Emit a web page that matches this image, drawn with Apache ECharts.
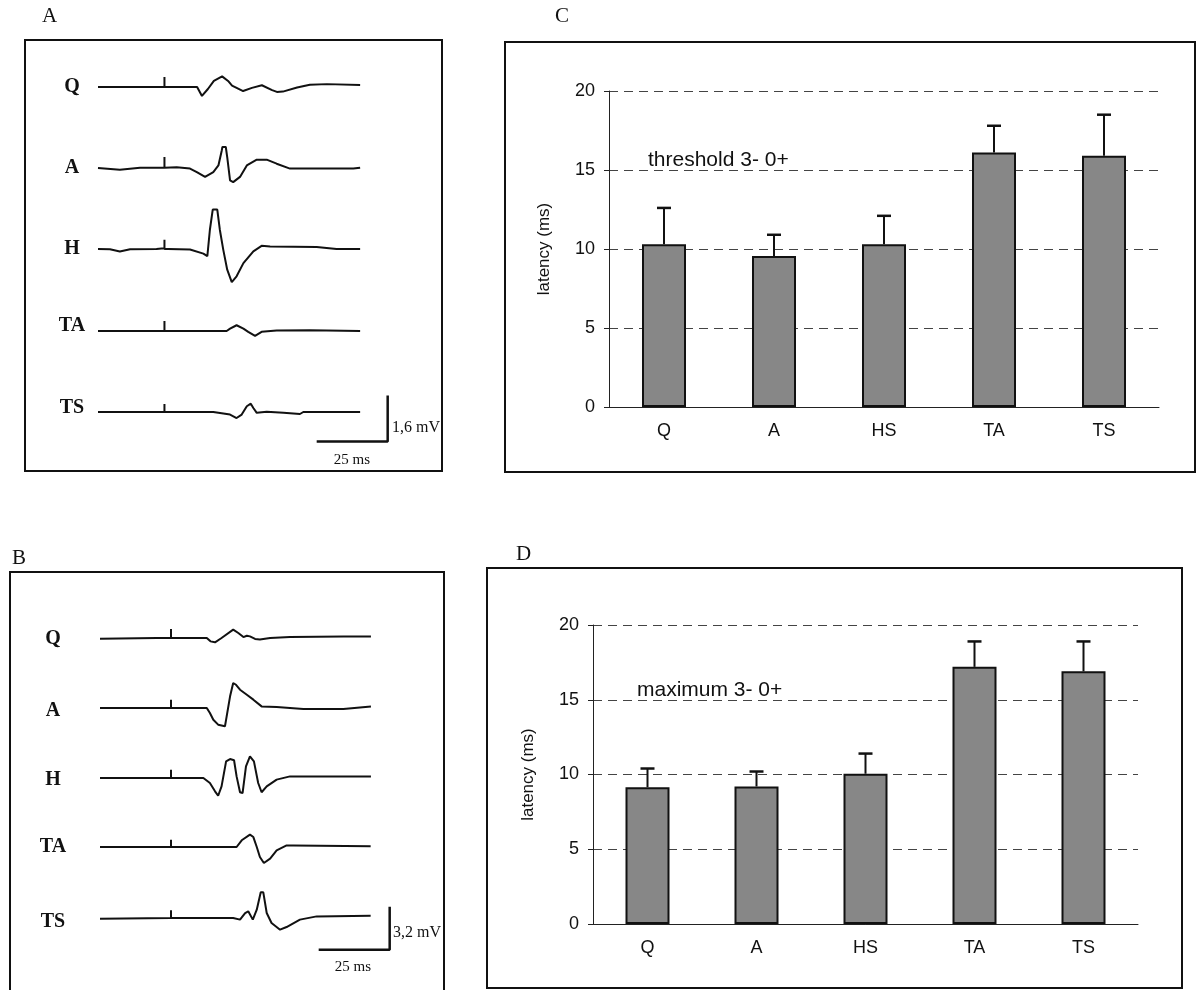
<!DOCTYPE html>
<html>
<head>
<meta charset="utf-8">
<script src="https://cdn.jsdelivr.net/npm/echarts@6/dist/echarts.min.js"></script>
<style>
html, body { margin: 0; padding: 0; background: #fff; }
#chart { width: 1197px; height: 990px; }
</style>
</head>
<body>
<div id="chart"></div>
<script>
// bar charts C and D
var muscles = ['Q', 'A', 'HS', 'TA', 'TS'];
var thresholdMean = [10.3, 9.55, 10.3, 16.1, 15.9];
var thresholdSd = [2.3, 1.35, 1.8, 1.7, 2.6];
var maximumMean = [9.15, 9.2, 10.05, 17.2, 16.9];
var maximumSd = [1.25, 1.0, 1.35, 1.7, 2.0];
var yTicks = [0, 5, 10, 15, 20];

// EMG traces, [ms, mV]
var traceNames = ['Q', 'A', 'H', 'TA', 'TS'];
var aQ = [[0,0],[23.4,0],[23.4,0.35],[23.4,0],[34.9,0],[36.6,-0.31],[38.7,-0.07],[40.8,0.21],[43.7,0.37],[45.8,0.21],[47.2,0.05],[51.1,-0.14],[54.2,-0.03],[57.7,0.06],[61.3,-0.11],[63.0,-0.17],[65.1,-0.16],[70.1,-0.02],[74.6,0.08],[80.6,0.10],[81.0,0.07],[92.3,0.07]];
var aA = [[0,0],[7.7,-0.06],[14.8,0.01],[23.4,0.01],[23.4,0.38],[23.4,0.01],[27.7,0.03],[32.4,-0.02],[34.8,-0.14],[37.7,-0.31],[40.6,-0.14],[42.4,0.09],[43.6,0.62],[43.8,0.73],[45.0,0.73],[45.5,0.38],[46.5,-0.43],[47.6,-0.49],[50.0,-0.31],[52.4,0.09],[55.9,0.29],[59.4,0.29],[62.9,0.15],[67.6,-0.02],[89.9,-0.02],[92.3,0.01]];
var aH = [[0,0],[4.2,-0.01],[7.7,-0.09],[11.3,-0.01],[20.6,0],[22.4,0.02],[23.4,0.02],[23.4,0.32],[23.4,0],[24.7,0],[32.4,-0.02],[37.1,-0.16],[38.5,-0.25],[39.4,0.67],[40.4,1.37],[42.0,1.37],[42.9,0.67],[44.1,-0.02],[45.5,-0.72],[47.1,-1.15],[48.8,-0.95],[51.2,-0.49],[54.7,-0.08],[57.6,0.11],[60.6,0.09],[77.0,0.07],[84.0,0],[92.3,0]];
var aTA = [[0,0],[23.4,0],[23.4,0.35],[23.4,0],[45.3,0],[46.5,0.08],[48.8,0.2],[51.2,0.08],[52.9,-0.03],[55.3,-0.17],[57.6,-0.03],[62.9,0.02],[74.6,0.03],[92.3,0]];
var aTS = [[0,0],[23.4,0],[23.4,0.28],[23.4,0],[40.6,0],[46.5,-0.09],[48.8,-0.21],[50.6,-0.09],[52.4,0.2],[53.8,0.29],[54.7,0.14],[55.9,-0.03],[59.4,0.01],[65.3,-0.03],[71.1,-0.07],[72.3,0],[92.3,0]];
var bQ = [[0,-0.05],[20,0],[25,0],[25,0.67],[25,0],[37.6,0],[38.9,-0.25],[40.5,-0.32],[42.8,0],[46.9,0.62],[48.7,0.37],[50.5,0.07],[51.7,0.17],[52.8,0.12],[54.6,-0.07],[56.3,-0.12],[59.9,0],[66.9,0.07],[85.7,0.12],[95.4,0.12]];
var bA = [[0,0],[25,0],[25,0.62],[25,0],[37.6,0],[38.7,-0.37],[39.9,-0.87],[41.6,-1.24],[44.0,-1.36],[44.6,-0.62],[45.8,0.87],[46.9,1.86],[47.9,1.73],[49.3,1.36],[51.7,0.99],[54.0,0.62],[56.9,0.12],[62.2,0.07],[71.6,-0.07],[85.7,-0.07],[95.4,0.12]];
var bH = [[0,0],[25,0],[25,0.62],[25,0],[36.4,0],[38.7,-0.37],[40.5,-0.99],[41.6,-1.32],[42.8,-0.62],[44.4,1.24],[45.8,1.41],[47.2,1.32],[48.1,0.12],[49.3,-1.06],[50.2,-1.12],[51.4,0.87],[52.8,1.61],[54.2,1.24],[55.7,-0.37],[56.9,-1.06],[58.7,-0.62],[62.2,-0.12],[66.9,0.12],[78.6,0.12],[95.4,0.12]];
var bTA = [[0,0],[25,0],[25,0.54],[25,0],[48.1,0],[49.9,0.5],[52.8,0.92],[54.0,0.74],[55.2,0],[56.3,-0.74],[57.7,-1.19],[59.9,-0.87],[62.2,-0.25],[65.7,0.12],[68.1,0.12],[95.3,0.05]];
var bTS = [[0,-0.05],[25,0],[25,0.57],[25,0],[46.9,0],[49.3,-0.12],[51.1,0.37],[52.2,0.5],[53.8,-0.12],[55.2,0.62],[56.6,1.91],[57.5,1.91],[58.7,0.37],[60.4,-0.37],[63.4,-0.87],[65.7,-0.67],[70.4,-0.12],[76.3,0.12],[95.3,0.17]];
// calibration bars: 25 ms / 1.6 mV and 25 ms / 3.2 mV
var scaleA = [[77,-1.03],[102,-1.03],[102,0.57]];
var scaleB = [[77,-2.36],[102,-2.36],[102,0.84]];

var myChart = echarts.init(document.getElementById('chart'));

var pxPerMs = 71 / 25;
var panels = [
    {traces: [aQ, aA, aH, aTA, aTS], base: [87, 168, 249, 331, 412], labelDy: [0, 0, 0, -5, -4], left: 98, labelX: 72,
        pxPerMv: 46 / 1.6, scale: scaleA, mvText: '1,6 mV', mvPos: [392, 428], msPos: [352, 460]},
    {traces: [bQ, bA, bH, bTA, bTS], base: [638, 708, 778, 847, 918], labelDy: [1, 3, 2, 0, 4], left: 100, labelX: 53,
        pxPerMv: 43 / 3.2, scale: scaleB, mvText: '3,2 mV', mvPos: [393, 933], msPos: [353, 967]}
];

var grids = [], xAxes = [], yAxes = [], series = [], graphics = [];
var serif = 'Liberation Serif';
var sans = 'Liberation Sans';

panels.forEach(function(p) {
    p.traces.forEach(function(tr, i) {
        var gi = grids.length;
        var half = 50 / p.pxPerMv;
        grids.push({left: p.left, top: p.base[i] - 50, width: 110 * pxPerMs, height: 100});
        xAxes.push({type: 'value', gridIndex: gi, min: 0, max: 110, show: false});
        yAxes.push({type: 'value', gridIndex: gi, min: -half, max: half, show: false});
        series.push({
            type: 'line', xAxisIndex: gi, yAxisIndex: gi, data: tr, showSymbol: false,
            clip: false, lineStyle: {color: '#111', width: 2}
        });
        if (i == 4) {
            series.push({
                type: 'line', xAxisIndex: gi, yAxisIndex: gi, data: p.scale, showSymbol: false,
                clip: false, lineStyle: {color: '#111', width: 2.5}
            });
        }
        graphics.push({
            type: 'text', x: p.labelX, y: p.base[i] + p.labelDy[i],
            style: {text: traceNames[i], fill: '#111', font: 'bold 20px ' + serif,
                align: 'center', verticalAlign: 'middle'}
        });
    });
    graphics.push({type: 'text', x: p.mvPos[0], y: p.mvPos[1],
        style: {text: p.mvText, fill: '#111', font: '16px ' + serif, verticalAlign: 'middle'}});
    graphics.push({type: 'text', x: p.msPos[0], y: p.msPos[1],
        style: {text: '25 ms', fill: '#111', font: '15px ' + serif, align: 'center', verticalAlign: 'middle'}});
});

// panel frames and letters
[[25, 40, 417, 431], [505, 42, 690, 430], [10, 572, 434, 430], [487, 568, 695, 420]].forEach(function(r) {
    graphics.push({type: 'rect', shape: {x: r[0], y: r[1], width: r[2], height: r[3]},
        style: {fill: null, stroke: '#111', lineWidth: 2}, z: -1});
});
[['A', 42, 6], ['C', 555, 6], ['B', 12, 548], ['D', 516, 544]].forEach(function(l) {
    graphics.push({type: 'text', left: l[1], top: l[2], style: {text: l[0], fill: '#111', font: '21px ' + serif}});
});
graphics.push({type: 'text', left: 648, top: 150, style: {text: 'threshold 3- 0+', fill: '#111', font: '21px ' + sans}});
graphics.push({type: 'text', left: 637, top: 680, style: {text: 'maximum 3- 0+', fill: '#111', font: '21px ' + sans}});

function barPanel(box, means, sds) {
    var gi = grids.length;
    grids.push(box);
    xAxes.push({
        type: 'category', gridIndex: gi, data: muscles,
        axisLine: {lineStyle: {color: '#222', width: 1}},
        axisTick: {length: 6, lineStyle: {color: '#222'}},
        axisLabel: {color: '#111', fontSize: 18, fontFamily: sans, margin: 15}
    });
    yAxes.push({
        type: 'value', gridIndex: gi, min: yTicks[0], max: yTicks[yTicks.length - 1], interval: 5,
        name: 'latency (ms)', nameLocation: 'middle', nameGap: 56,
        nameTextStyle: {color: '#111', fontSize: 17, fontFamily: sans},
        axisLine: {show: true, lineStyle: {color: '#222', width: 1}},
        axisTick: {show: true, length: 5, lineStyle: {color: '#222'}},
        axisLabel: {color: '#111', fontSize: 18, fontFamily: sans, margin: 14},
        splitLine: {lineStyle: {color: '#444', type: [9, 6], width: 1}}
    });
    series.push({
        type: 'bar', xAxisIndex: gi, yAxisIndex: gi, data: means, barWidth: 44,
        itemStyle: {color: '#878787', borderColor: '#111', borderWidth: 2}
    });
    series.push({
        type: 'custom', xAxisIndex: gi, yAxisIndex: gi, z: 3,
        data: means.map(function(m, i) { return [i, m, m + sds[i]]; }),
        encode: {x: 0, y: [1, 2]},
        renderItem: function(params, api) {
            var a = api.coord([api.value(0), api.value(1)]);
            var b = api.coord([api.value(0), api.value(2)]);
            return {type: 'group', children: [
                {type: 'line', shape: {x1: a[0], y1: a[1], x2: b[0], y2: b[1]}, style: {stroke: '#111', lineWidth: 2}},
                {type: 'line', shape: {x1: b[0] - 7, y1: b[1], x2: b[0] + 7, y2: b[1]}, style: {stroke: '#111', lineWidth: 2.5}}
            ]};
        }
    });
}
barPanel({left: 609, top: 91, width: 550, height: 316}, thresholdMean, thresholdSd);
barPanel({left: 593, top: 625, width: 545, height: 299}, maximumMean, maximumSd);

myChart.setOption({
    animation: false,
    grid: grids,
    xAxis: xAxes,
    yAxis: yAxes,
    series: series,
    graphic: graphics
});
</script>
</body>
</html>
